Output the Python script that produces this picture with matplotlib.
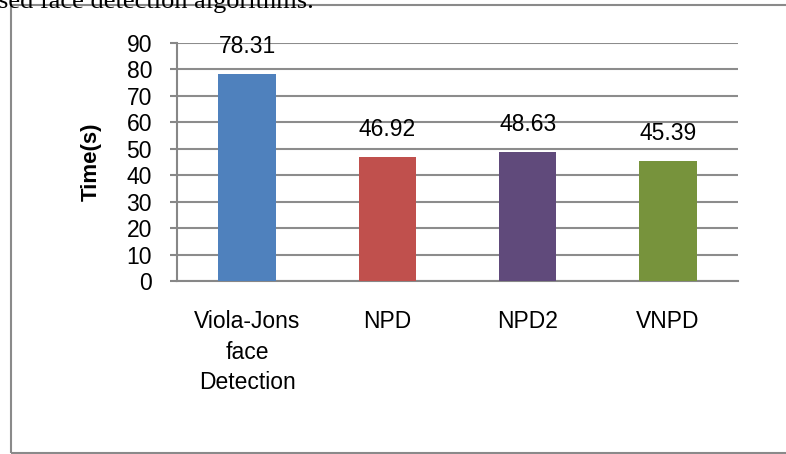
import matplotlib
matplotlib.use('Agg')
import matplotlib.pyplot as plt
from matplotlib.patches import Rectangle

categories = ['Viola-Jons\nface\nDetection', 'NPD', 'NPD2', 'VNPD']
times = [78.31, 46.92, 48.63, 45.39]
value_labels = ['78.31', '46.92', '48.63', '45.39']
colors = ['#4F81BD', '#C0504D', '#604A7B', '#77933C']
yticks = list(range(0, 100, 10))

plt.rcParams['font.family'] = ['Liberation Sans', 'DejaVu Sans']

fig = plt.figure(figsize=(7.86, 4.54), dpi=100)
W, H = 786, 454
# plot area in pixels: x 177..738, y 43..281
ax = fig.add_axes([177 / W, 1 - 281 / H, (738 - 177) / W, (281 - 43) / H])

x = list(range(len(categories)))
ax.bar(x, times, width=0.41, color=colors, zorder=3)
ax.set_xlim(-0.5, len(categories) - 0.5)
ax.set_ylim(0, 90)
ax.set_yticks(yticks)
ax.tick_params(axis='y', labelsize=16.5, length=5, width=1.5, color='#878787', pad=13)
ax.tick_params(axis='x', length=0, labelsize=16.5, pad=21)
ax.set_xticks(x)
ax.set_xticklabels(categories, linespacing=1.42, va='top')
ax.grid(axis='y', color='#8C8C8C', linewidth=1.5, zorder=0)
for s in ['top', 'right']:
    ax.spines[s].set_visible(False)
ax.spines['left'].set_color('#878787')
ax.spines['bottom'].set_color('#878787')
ax.spines['left'].set_linewidth(1.5)
ax.spines['bottom'].set_linewidth(1.5)
ax.set_ylabel('Time(s)', fontsize=16, fontweight='bold', labelpad=18)

for xi, v, lab in zip(x, times, value_labels):
    ax.annotate(lab, (xi, v), xytext=(0, 20), textcoords='offset points',
                ha='center', va='center', fontsize=16.5)

# page frame and cut-off caption above it
fig.text(-2 / W, 1 - 8 / H, 'sed face detection algorithms.', family='Liberation Serif',
         fontsize=19, va='baseline', ha='left')
fig.add_artist(Rectangle((11 / W, 1 / H), 1.2, 1 - 6 / H, transform=fig.transFigure,
                         fill=False, edgecolor='#8A8A8A', linewidth=1.5))

fig.savefig('out.png', dpi=100)
